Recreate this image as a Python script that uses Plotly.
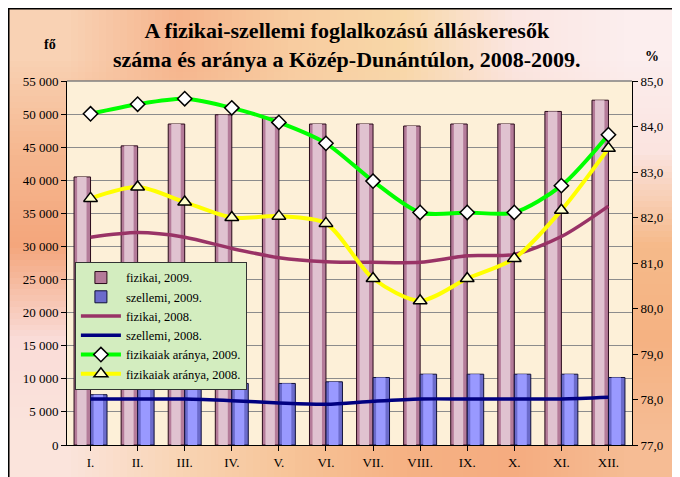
import base64
import struct
import zlib
import plotly.graph_objects as go

months = ["I.", "II.", "III.", "IV.", "V.", "VI.", "VII.", "VIII.", "IX.", "X.", "XI.", "XII."]
fizikai_2009 = [40500, 45200, 48500, 49900, 49500, 48500, 48500, 48200, 48500, 48500, 50400, 52100]
szellemi_2009 = [7600, 8450, 9000, 9300, 9300, 9550, 10200, 10700, 10700, 10700, 10700, 10200]
fizikai_2008 = [31400, 32100, 31400, 29700, 28300, 27700, 27600, 27600, 28600, 28800, 31500, 36100]
szellemi_2008 = [6950, 6950, 6950, 6700, 6350, 6150, 6600, 6950, 6950, 6950, 6950, 7200]
arany_2009 = [84.28, 84.49, 84.61, 84.41, 84.09, 83.63, 82.80, 82.11, 82.11, 82.11, 82.70, 83.82]
arany_2008 = [82.42, 82.67, 82.34, 82.00, 82.03, 81.87, 80.66, 80.17, 80.66, 81.10, 82.16, 83.52]

FONT = "Liberation Serif, Times New Roman, serif"
idx = list(range(len(months)))

# ---- soft background gradient (chart-area fill), built as a tiny PNG stretched by the browser
bg_grid = [
    ["#F9D2B4", "#F6B48C", "#F8CCA0", "#F9D8A8", "#FBE6E2", "#FCEEEE"],
    ["#F6B890", "#F7C49C", "#F8D0A8", "#F9D6B4", "#FADCCC", "#FBE4E0"],
    ["#F4A67C", "#F6BC94", "#F8CCA4", "#F8C8A0", "#F7C096", "#F6BA8A"],
    ["#FADCD8", "#F9D4C0", "#F8CCA8", "#F7C49A", "#F6B88C", "#F5B282"],
    ["#FBE4DC", "#F9D4B4", "#F7C498", "#F6B284", "#F5AC80", "#F6BC94"],
]


def make_png(grid):
    h = len(grid)
    w = len(grid[0])
    raw = b""
    for row in grid:
        raw += b"\x00"
        for c in row:
            raw += bytes(int(c[i:i + 2], 16) for i in (1, 3, 5))

    def chunk(tag, data):
        return struct.pack(">I", len(data)) + tag + data + struct.pack(">I", zlib.crc32(tag + data) & 0xFFFFFFFF)

    png = b"\x89PNG\r\n\x1a\n"
    png += chunk(b"IHDR", struct.pack(">IIBBBBB", w, h, 8, 2, 0, 0, 0))
    png += chunk(b"IDAT", zlib.compress(raw))
    png += chunk(b"IEND", b"")
    return "data:image/png;base64," + base64.b64encode(png).decode()


fig = go.Figure()

# Bars (base + highlight to mimic cylinder shading)
fig.add_trace(go.Bar(x=idx, y=fizikai_2009, name="fizikai, 2009.", offset=-0.35, width=0.35,
                     marker=dict(color="#B47B99", line=dict(color="#2a0a1a", width=1)), yaxis="y"))
fig.add_trace(go.Bar(x=idx, y=fizikai_2009, showlegend=False, hoverinfo="skip", offset=-0.285, width=0.2,
                     marker=dict(color="#E0C2D0", line=dict(width=0)), yaxis="y"))
fig.add_trace(go.Bar(x=idx, y=szellemi_2009, name="szellemi, 2009.", offset=0.0, width=0.35,
                     marker=dict(color="#6B6BCB", line=dict(color="#10103a", width=1)), yaxis="y"))
fig.add_trace(go.Bar(x=idx, y=szellemi_2009, showlegend=False, hoverinfo="skip", offset=0.065, width=0.2,
                     marker=dict(color="#9999FF", line=dict(width=0)), yaxis="y"))

fig.add_trace(go.Scatter(x=idx, y=fizikai_2008, name="fizikai, 2008.", mode="lines",
                         line=dict(color="#993366", width=3.5, shape="spline", smoothing=0.8), yaxis="y"))
fig.add_trace(go.Scatter(x=idx, y=szellemi_2008, name="szellemi, 2008.", mode="lines",
                         line=dict(color="#000080", width=3.5, shape="spline", smoothing=0.8), yaxis="y"))
fig.add_trace(go.Scatter(x=idx, y=arany_2009, name="fizikaiak aránya, 2009.", mode="lines+markers",
                         line=dict(color="#00FF00", width=4, shape="spline", smoothing=0.8),
                         marker=dict(symbol="diamond", size=11, color="white", line=dict(color="black", width=1.5)),
                         yaxis="y2"))
fig.add_trace(go.Scatter(x=idx, y=arany_2008, name="fizikaiak aránya, 2008.", mode="lines+markers",
                         line=dict(color="#FFFF00", width=4, shape="spline", smoothing=0.8),
                         marker=dict(symbol="triangle-up", size=12, color="#FFFFCC", line=dict(color="black", width=1.5)),
                         yaxis="y2"))

fig.update_layout(
    width=672, height=469,
    margin=dict(l=59, r=48, t=73, b=32, autoexpand=False),
    paper_bgcolor="white",
    plot_bgcolor="#FDF0D8",
    barmode="overlay",
    separators=", ",
    font=dict(family=FONT, size=13, color="black"),
    showlegend=True,
    legend=dict(x=0.014, y=0.503, xanchor="left", yanchor="top",
                bgcolor="#D3EDBF", bordercolor="#333333", borderwidth=1,
                font=dict(family=FONT, size=12.5), itemwidth=40, tracegroupgap=0,
                traceorder="normal"),
    xaxis=dict(tickmode="array", tickvals=idx, ticktext=months, range=[-0.5, 11.5],
               showline=True, linecolor="black", linewidth=1, ticks="outside", ticklen=5,
               tickson="boundaries", tickcolor="black", showgrid=False, automargin=False,
               tickfont=dict(family=FONT, size=13)),
    yaxis=dict(range=[0, 55000], dtick=5000, tickformat=",d", showline=True, linecolor="black",
               linewidth=1, ticks="outside", ticklen=5, tickcolor="black", automargin=False,
               showgrid=True, gridcolor="#8c8c8c", gridwidth=1, zeroline=False,
               tickfont=dict(family=FONT, size=13)),
    yaxis2=dict(range=[77, 85], dtick=1, tickformat=".1f", overlaying="y", side="right",
                showline=True, linecolor="black", linewidth=1, ticks="outside", ticklen=5,
                tickcolor="black", showgrid=False, zeroline=False, automargin=False,
                tickfont=dict(family=FONT, size=13)),
    images=[dict(source=make_png(bg_grid), xref="paper", yref="paper",
                 x=-59 / 565, y=1 + 73 / 364, sizex=672 / 565, sizey=469 / 364,
                 xanchor="left", yanchor="top", sizing="stretch", layer="below")],
    shapes=[
        dict(type="rect", xref="paper", yref="paper", x0=0, x1=1, y0=0, y1=1,
             fillcolor="#FDF0D8", line=dict(width=0), layer="below"),
        dict(type="rect", xref="paper", yref="paper", x0=-0.1035, x1=1.3, y0=-0.3, y1=1.199,
             fillcolor="rgba(0,0,0,0)", line=dict(color="black", width=2), layer="below"),
        dict(type="line", xref="paper", yref="paper", x0=0, x1=1, y0=1, y1=1,
             line=dict(color="#808080", width=1.5)),
    ],
    annotations=[
        dict(text="<b>A fizikai-szellemi foglalkozású álláskeresők<br>száma és aránya a Közép-Dunántúlon, 2008-2009.</b>",
             xref="paper", yref="paper", x=0.496, y=1.099, xanchor="center", yanchor="middle",
             showarrow=False, font=dict(family=FONT, size=22, color="black")),
        dict(text="<b>fő</b>", xref="paper", yref="paper", x=-0.030, y=1.099, xanchor="center",
             yanchor="middle", showarrow=False, font=dict(family=FONT, size=14)),
        dict(text="<b>%</b>", xref="paper", yref="paper", x=1.035, y=1.066, xanchor="center",
             yanchor="middle", showarrow=False, font=dict(family=FONT, size=14)),
    ],
)

fig.write_html("out.html")
